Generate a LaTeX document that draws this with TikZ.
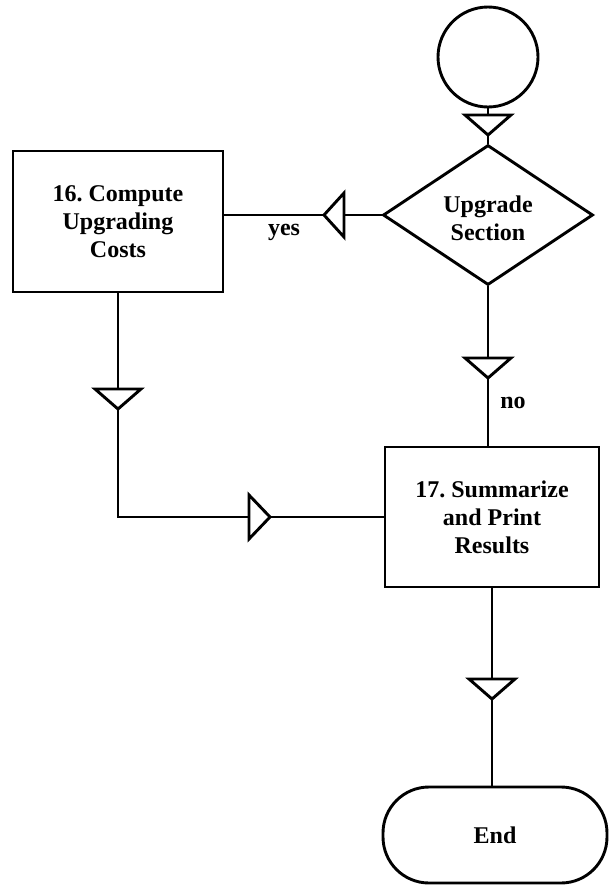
\documentclass[tikz,border=0pt]{standalone}
\usepackage{fontspec}
\setmainfont{Liberation Serif}
\usetikzlibrary{shapes.geometric}
\frenchspacing
\tikzset{
  lw/.style={line width=2.9pt, line join=miter},
  txtfont/.style={font=\fontsize{24}{28}\selectfont\bfseries},
  procbox/.style={draw, lw, rectangle, inner sep=0pt, align=center, txtfont},
  decbox/.style={draw, lw, diamond, aspect=1.5, inner sep=0pt, minimum width=210pt, minimum height=140pt, align=center, txtfont},
  startbox/.style={draw, lw, circle, inner sep=0pt, minimum size=100pt},
  termbox/.style={draw, lw, rectangle, rounded corners=46pt, inner sep=0pt, minimum width=224pt, minimum height=96pt, txtfont},
  conn/.style={lw},
  lbl/.style={txtfont, inner sep=0pt},
  markline/.style={draw, lw, fill=white},
  downmark/.pic={\path[markline] (-23,-20) -- (23,-20) -- (0,0) -- cycle;},
  rightmark/.pic={\path[markline] (-21,-22) -- (-21,22) -- (0,0) -- cycle;},
  leftmark/.pic={\path[markline] (20,-22) -- (20,22) -- (0,0) -- cycle;}
}
\begin{document}
\begin{tikzpicture}[x=1pt,y=-1pt]
\useasboundingbox (0,0) rectangle (610,886);
% nodes
\node[startbox] (st) at (488,57) {};
\node[decbox] (dec) at (488,215) {\raisebox{-12pt}[0pt][0pt]{\begin{tabular}{@{}c@{}}Upgrade\\Section\end{tabular}}};
\node[procbox, minimum width=210pt, minimum height=141pt] (b16) at (118,221.5) {16. Compute\\Upgrading\\Costs};
\node[procbox, minimum width=214pt, minimum height=140pt] (b17) at (492,517) {17. Summarize\\and Print\\Results};
\node[termbox] (fin) at (495,835) {End};
% connectors
\draw[conn] (st.south) -- (st.south |- dec.north);
\draw[conn] (dec.west) -- (dec.west -| b16.east);
\draw[conn] (dec.south) -- (dec.south |- b17.north);
\draw[conn] (b16.south) |- (b17.west);
\draw[conn] (b17.south) -- (b17.south |- fin.north);
% flow markers
\pic at (st.south |- 0,135) {downmark};
\pic at (dec.south |- 0,378) {downmark};
\pic at (b16.south |- 0,409) {downmark};
\pic at (b17.south |- 0,699) {downmark};
\pic at (324,0 |- dec.west) {leftmark};
\pic at (270,0 |- b17.west) {rightmark};
% labels
\node[lbl] (yes) at (284,232) {yes};
\node[lbl] (no) at (513,403) {no};
\end{tikzpicture}
\end{document}
